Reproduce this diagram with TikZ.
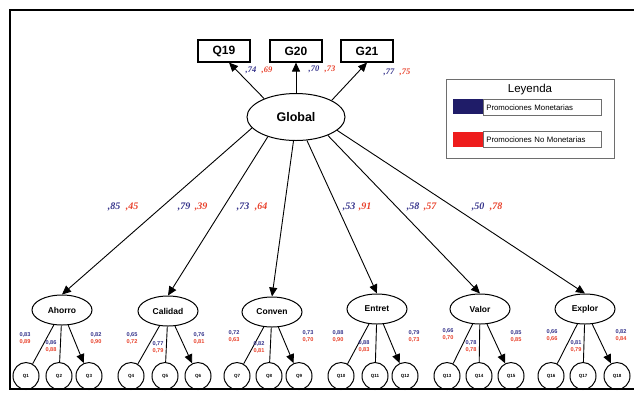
\documentclass[tikz,border=0pt]{standalone}
\usepackage{fontspec}
\setmainfont{Liberation Serif}
\setsansfont{Liberation Sans}
\usetikzlibrary{arrows.meta,shapes.geometric}
\definecolor{loadblue}{HTML}{34328A}
\definecolor{loadred}{HTML}{E8402A}
\definecolor{legblue}{HTML}{1F1C68}
\definecolor{legred}{HTML}{EE1C1C}
\definecolor{framegrey}{HTML}{6E6E6E}
\tikzset{
  obsbox/.style={draw, line width=1.1pt, minimum width=52pt, minimum height=22pt, inner sep=0pt, font=\sffamily\bfseries\fontsize{12}{12}\selectfont},
  latent/.style={draw, ellipse, line width=1pt, inner sep=0pt, minimum width=60pt, minimum height=30pt, font=\sffamily\bfseries\fontsize{8.5}{8.5}\selectfont},
  globalvar/.style={latent, minimum width=98pt, minimum height=47pt, font=\sffamily\bfseries\fontsize{12.5}{12.5}\selectfont},
  itemvar/.style={draw, ellipse, line width=1pt, minimum width=26pt, minimum height=27pt, inner sep=0pt, font=\sffamily\bfseries\fontsize{4.5}{4.5}\selectfont},
  semarrow/.style={-{Triangle[length=9pt,width=8pt]}, line width=0.9pt},
  bigcoef/.style={inner sep=0pt, font=\rmfamily\bfseries\itshape\fontsize{10}{10}\selectfont},
  topcoef/.style={inner sep=0pt, font=\rmfamily\bfseries\itshape\fontsize{8.5}{8.5}\selectfont},
  smallcoef/.style={inner sep=0pt, align=center, font=\sffamily\bfseries\fontsize{5.6}{7}\selectfont},
  legendtext/.style={draw=framegrey, line width=0.6pt, anchor=north west, minimum width=118pt, minimum height=16pt, inner sep=3pt, text width=112pt, align=left, font=\sffamily\fontsize{7.8}{7.8}\selectfont},
}
\newcommand{\coefpair}[2]{{\color{loadblue}#1}\\{\color{loadred}#2}}

\begin{document}
\begin{tikzpicture}[x=1pt, y=-1pt]
  \useasboundingbox (0,0) rectangle (634,392);
  \draw[line width=1.3pt] (634,10) -- (10,10) -- (10,389) -- (634,389);

  % second order factor and its indicators
  \node[obsbox] (q19) at (224,51) {Q19};
  \node[obsbox] (g20) at (296,51) {G20};
  \node[obsbox] (g21) at (367,51) {G21};
  \node[globalvar] (global) at (296,117) {Global};
  \draw[semarrow] (global.150) -- ([xshift=5pt]q19.south);
  \draw[semarrow] (global.north) -- (g20.south);
  \draw[semarrow] (global.25) -- (g21.south);
  \node[topcoef, text=loadblue] (c19a) at (251,70) {,74};
  \node[topcoef, text=loadred] (c19b) at (267,70) {,69};
  \node[topcoef, text=loadblue] (c20a) at (314,69) {,70};
  \node[topcoef, text=loadred] (c20b) at (330,69) {,73};
  \node[topcoef, text=loadblue] (c21a) at (389,72) {,77};
  \node[topcoef, text=loadred] (c21b) at (405,72) {,75};

  % legend
  \node[draw=framegrey, line width=1pt, anchor=north west, minimum width=168pt, minimum height=79pt] (legend) at (446,79) {};
  \node[font=\sffamily\fontsize{11.5}{11.5}\selectfont] (legtitle) at (530,90) {Leyenda};
  \node[fill=legblue, anchor=north west, minimum width=30pt, minimum height=15pt, inner sep=0pt] (swblue) at (453,99) {};
  \node[legendtext] (legmon) at (483,99) {Promociones Monetarias};
  \node[fill=legred, anchor=north west, minimum width=30pt, minimum height=15pt, inner sep=0pt] (swred) at (453,132) {};
  \node[legendtext] (legnomon) at (483,131) {Promociones No Monetarias};

  % first order factors
  \node[latent] (ahorro) at (62,310) {Ahorro};
  \node[latent] (calidad) at (168,311) {Calidad};
  \node[latent] (conven) at (272,312) {Conven};
  \node[latent] (entret) at (377,309) {Entret};
  \node[latent] (valor) at (480,309) {Valor};
  \node[latent] (explor) at (585,309) {Explor};
  \foreach \f/\ang in {ahorro/194, calidad/215, conven/264, entret/295, valor/330, explor/342}
    \draw[semarrow] (global.\ang) -- (\f.north);
  \node[bigcoef, text=loadblue] (cah1) at (114,207) {,85};
  \node[bigcoef, text=loadred] (cah2) at (132,207) {,45};
  \node[bigcoef, text=loadblue] (cca1) at (184,207) {,79};
  \node[bigcoef, text=loadred] (cca2) at (201,207) {,39};
  \node[bigcoef, text=loadblue] (cco1) at (243,207) {,73};
  \node[bigcoef, text=loadred] (cco2) at (261,207) {,64};
  \node[bigcoef, text=loadblue] (cen1) at (349,207) {,53};
  \node[bigcoef, text=loadred] (cen2) at (365,207) {,91};
  \node[bigcoef, text=loadblue] (cva1) at (413,207) {,58};
  \node[bigcoef, text=loadred] (cva2) at (430,207) {,57};
  \node[bigcoef, text=loadblue] (cex1) at (478,207) {,50};
  \node[bigcoef, text=loadred] (cex2) at (496,207) {,78};

  % items
  \node[itemvar] (q1) at (26,376) {Q1};
  \node[itemvar] (q2) at (59,376) {Q2};
  \node[itemvar] (q3) at (89,376) {Q3};
  \node[itemvar] (q4) at (131,376) {Q4};
  \node[itemvar] (q5) at (165,376) {Q5};
  \node[itemvar] (q6) at (198,376) {Q6};
  \node[itemvar] (q7) at (237,376) {Q7};
  \node[itemvar] (q8) at (269,376) {Q8};
  \node[itemvar] (q9) at (299,376) {Q9};
  \node[itemvar] (q10) at (341,376) {Q10};
  \node[itemvar] (q11) at (375,376) {Q11};
  \node[itemvar] (q12) at (405,376) {Q12};
  \node[itemvar] (q13) at (447,376) {Q13};
  \node[itemvar] (q14) at (479,376) {Q14};
  \node[itemvar] (q15) at (511,376) {Q15};
  \node[itemvar] (q16) at (551,376) {Q16};
  \node[itemvar] (q17) at (583,376) {Q17};
  \node[itemvar] (q18) at (617,376) {Q18};
  \foreach \f/\a/\b/\c in {ahorro/q1/q2/q3, calidad/q4/q5/q6, conven/q7/q8/q9, entret/q10/q11/q12, valor/q13/q14/q15, explor/q16/q17/q18}
    \draw[semarrow] (\f) -- (\a) (\f) -- (\b) (\f) -- (\c);

  \node[smallcoef] (l1) at (25,338) {\coefpair{0,83}{0,89}};
  \node[smallcoef] (l2) at (51,346) {\coefpair{0,86}{0,88}};
  \node[smallcoef] (l3) at (96,338) {\coefpair{0,82}{0,90}};
  \node[smallcoef] (l4) at (132,338) {\coefpair{0,65}{0,72}};
  \node[smallcoef] (l5) at (158,347) {\coefpair{0,77}{0,79}};
  \node[smallcoef] (l6) at (199,338) {\coefpair{0,76}{0,81}};
  \node[smallcoef] (l7) at (234,336) {\coefpair{0,72}{0,63}};
  \node[smallcoef] (l8) at (259,347) {\coefpair{0,82}{0,81}};
  \node[smallcoef] (l9) at (308,336) {\coefpair{0,73}{0,70}};
  \node[smallcoef] (l10) at (338,336) {\coefpair{0,88}{0,90}};
  \node[smallcoef] (l11) at (364,346) {\coefpair{0,88}{0,83}};
  \node[smallcoef] (l12) at (414,336) {\coefpair{0,79}{0,73}};
  \node[smallcoef] (l13) at (448,334) {\coefpair{0,66}{0,70}};
  \node[smallcoef] (l14) at (471,346) {\coefpair{0,78}{0,78}};
  \node[smallcoef] (l15) at (516,336) {\coefpair{0,85}{0,85}};
  \node[smallcoef] (l16) at (552,335) {\coefpair{0,66}{0,66}};
  \node[smallcoef] (l17) at (576,346) {\coefpair{0,81}{0,79}};
  \node[smallcoef] (l18) at (621,335) {\coefpair{0,82}{0,84}};
\end{tikzpicture}
\end{document}
